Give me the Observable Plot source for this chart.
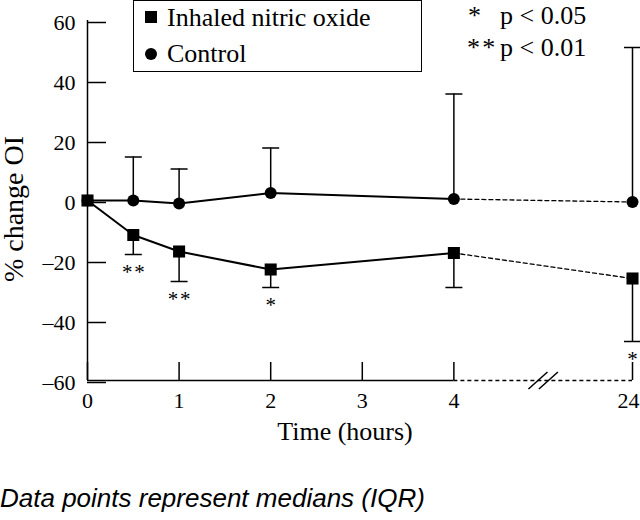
<!DOCTYPE html>
<html>
<head>
<meta charset="utf-8">
<script src="https://cdn.jsdelivr.net/npm/d3@7"></script>
<script src="https://cdn.jsdelivr.net/npm/@observablehq/plot@0.6"></script>
<style>
  body { margin: 0; background: #fff; }
  #wrap { position: relative; width: 640px; height: 520px; overflow: hidden; }
  .serif { font-family: "Liberation Serif", "Times New Roman", serif; color: #000; position: absolute; white-space: nowrap; font-size: 26px; line-height: 26px; }
  #legendBox { position: absolute; left: 133px; top: 0px; width: 289px; height: 72px; border: 1.5px solid #000; box-sizing: border-box; }
  .sq { position: absolute; width: 12px; height: 12px; background: #000; }
  .ci { position: absolute; width: 12px; height: 12px; background: #000; border-radius: 50%; }
  #ylab { left: 3px; top: 209px; font-size: 28px; line-height: 22px; writing-mode: vertical-rl; transform: translateY(-50%) rotate(180deg); }
  #caption { position: absolute; left: 0; top: 485px; font-family: "Liberation Sans", Arial, sans-serif; font-style: italic; font-size: 26px; line-height: 26px; color: #000; white-space: nowrap; }
</style>
</head>
<body>
<div id="wrap">
  <div id="chart"></div>
  <div id="legendBox"></div>
  <div class="sq" style="left:145px; top:11px;"></div>
  <div class="serif" id="lg1" style="left:167px; top:5px;"></div>
  <div class="ci" style="left:145px; top:48px;"></div>
  <div class="serif" id="lg2" style="left:167px; top:41px;"></div>
  <div class="serif" id="st1a" style="left:468px; top:3px;"></div>
  <div class="serif" id="st1b" style="left:500px; top:3px;"></div>
  <div class="serif" id="st2a" style="left:467px; top:35px;"></div>
  <div class="serif" id="st2b" style="left:500px; top:35px;"></div>
  <div class="serif" id="ylab"></div>
  <div id="caption"></div>
</div>
<script>
// ---- data ----
const hours = [0, 0.5, 1, 2, 4, 24];
const nitricMedian = [0, -11.5, -17, -23, -17.5, -26];
const nitricLower = [0, -18, -27, -29, -29, -47];
const controlMedian = [0, 0, -1, 2.5, 0.5, -0.5];
const controlUpper = [0, 14.5, 10.5, 17.5, 35.5, 51];
const sigLabels = ["", "**", "**", "*", "", "*"];
const xTickValues = [0, 1, 2, 3, 4, 24];
const yTickValues = [-60, -40, -20, 0, 20, 40, 60];
const seriesNames = ["Inhaled nitric oxide", "Control"];
const sigKey = [["*", "p < 0.05"], ["**", "p < 0.01"]];
const xLabel = "Time (hours)";
const yLabel = "% change OI";
const captionText = "Data points represent medians (IQR)";

// broken time axis: 0–4 h linear, 24 h placed after a break
const axisEnd = 4;
const compressedPos24 = 5.95;
const pos = h => (h <= axisEnd ? h : compressedPos24);
const breakPos = (pos(axisEnd) + pos(24)) / 2;

const rows = hours.map((h, i) => ({
  h, x: pos(h),
  nm: nitricMedian[i], nl: nitricLower[i],
  cm: controlMedian[i], cu: controlUpper[i],
  sig: sigLabels[i]
}));
const early = rows.filter(d => d.h <= axisEnd);
const late = rows.filter(d => d.h >= axisEnd);

const capSymbol = {
  draw(ctx, size) {
    const r = Math.sqrt(size / Math.PI);
    ctx.moveTo(-r, 0); ctx.lineTo(r, 0);
  }
};
const breakSymbol = {
  draw(ctx, size) {
    const r = Math.sqrt(size / Math.PI);
    const h = r * 0.9, o = r * 0.55;
    ctx.moveTo(-r - o, h); ctx.lineTo(r - o, -h);
    ctx.moveTo(-r + o, h); ctx.lineTo(r + o, -h);
  }
};
const fmtY = d => (d < 0 ? "\u2013" + (-d) : String(d));
const hourAt = d => xTickValues.find(t => pos(t) === d);
const fmtEarly = d => (hourAt(d) <= axisEnd ? String(hourAt(d)) : "");
const fmtLate = d => String(hourAt(d));
const spaced = s => s.split("").join("\u200A");

const dash = "4,3";
const yMin = yTickValues[0], yMax = yTickValues[yTickValues.length - 1];
const allTicks = xTickValues.map(pos);
const lateTicks = xTickValues.filter(t => t > axisEnd).map(pos);

const chart = Plot.plot({
  width: 640,
  height: 460,
  marginLeft: 87,
  marginRight: 8,
  marginTop: 20,
  marginBottom: 80,
  style: { fontFamily: "'Liberation Serif', 'Times New Roman', serif", color: "#000", background: "#fff", overflow: "visible" },
  x: { domain: [0, pos(24)] },
  y: { domain: [yMin, yMax] },
  marks: [
    Plot.axisY(yTickValues, { tickSize: -19, tickPadding: 31, tickFormat: fmtY, fontSize: 22, strokeWidth: 1.5, dy: 2, label: null }),
    Plot.axisX(allTicks, { tickSize: -18, tickPadding: 30, tickFormat: fmtEarly, fontSize: 22, strokeWidth: 1.5, label: null }),
    Plot.axisX(lateTicks, { tickSize: 0, tickPadding: 12, tickFormat: fmtLate, fontSize: 22, dx: -4, label: null, stroke: "none" }),
    Plot.ruleX([0], { y1: yMin, y2: yMax, strokeWidth: 1.5 }),
    Plot.ruleY([yMin], { x1: 0, x2: pos(axisEnd), strokeWidth: 1.5 }),
    Plot.ruleY([yMin], { x1: pos(axisEnd), x2: pos(24), strokeWidth: 1.3, strokeDasharray: dash }),
    Plot.dot([breakPos], { x: d => d, y: () => yMin, symbol: breakSymbol, r: 9.5, stroke: "#000", strokeWidth: 1.5, fill: "none" }),

    // control
    Plot.line(early, { x: "x", y: "cm", strokeWidth: 2 }),
    Plot.line(late, { x: "x", y: "cm", strokeWidth: 1.3, strokeDasharray: dash }),
    Plot.ruleX(rows.filter(d => d.cu !== d.cm), { x: "x", y1: "cm", y2: "cu", strokeWidth: 1.5 }),
    Plot.dot(rows.filter(d => d.cu !== d.cm), { x: "x", y: "cu", symbol: capSymbol, r: 8.5, stroke: "#000", strokeWidth: 1.5 }),
    Plot.dot(rows, { x: "x", y: "cm", r: 6, fill: "#000", stroke: "none" }),

    // inhaled nitric oxide
    Plot.line(early, { x: "x", y: "nm", strokeWidth: 2 }),
    Plot.line(late, { x: "x", y: "nm", strokeWidth: 1.3, strokeDasharray: dash }),
    Plot.ruleX(rows.filter(d => d.nl !== d.nm), { x: "x", y1: "nm", y2: "nl", strokeWidth: 1.5 }),
    Plot.dot(rows.filter(d => d.nl !== d.nm), { x: "x", y: "nl", symbol: capSymbol, r: 8.5, stroke: "#000", strokeWidth: 1.5 }),
    Plot.dot(rows, { x: "x", y: "nm", symbol: "square", r: 6.8, fill: "#000", stroke: "none" }),

    // significance marks
    Plot.text(rows.filter(d => d.sig), { x: "x", y: "nl", text: d => spaced(d.sig), dy: 18, fontSize: 21 }),

    // x axis title
    Plot.text([xLabel], { frameAnchor: "bottom", text: d => d, dx: -15, dy: 59, fontSize: 26 })
  ]
});
document.getElementById("chart").append(chart);

document.getElementById("lg1").textContent = seriesNames[0];
document.getElementById("lg2").textContent = seriesNames[1];
document.getElementById("st1a").textContent = spaced(sigKey[0][0]);
document.getElementById("st1b").textContent = sigKey[0][1];
document.getElementById("st2a").textContent = spaced(sigKey[1][0]);
document.getElementById("st2b").textContent = sigKey[1][1];
document.getElementById("ylab").textContent = yLabel;
document.getElementById("caption").textContent = captionText;
</script>
</body>
</html>
